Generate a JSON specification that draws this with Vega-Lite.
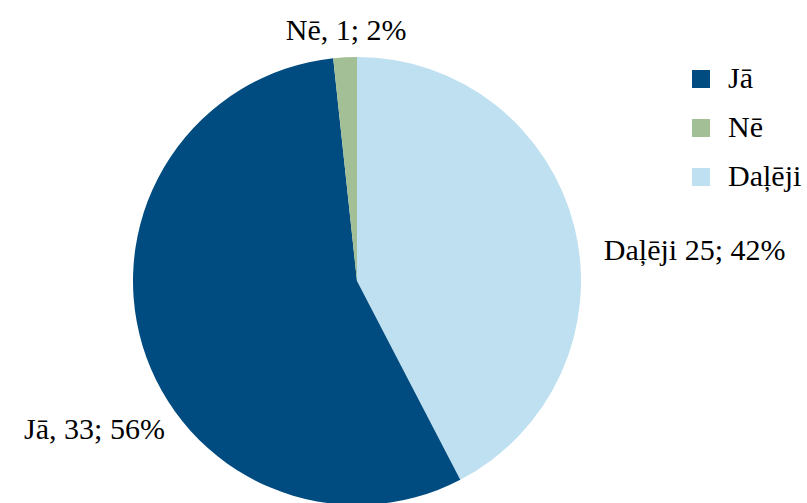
{
  "$schema": "https://vega.github.io/schema/vega-lite/v6.json",
  "width": 714,
  "height": 562,
  "autosize": "none",
  "padding": {"left": 0, "top": 0, "right": 93, "bottom": 0},
  "background": "white",
  "config": {"view": {"stroke": null}, "font": "Liberation Serif"},
  "data": {"values": [
    {"cat": "Daļēji", "value": 25, "ord": 1, "label": "Daļēji 25; 42%"},
    {"cat": "Jā", "value": 33, "ord": 2, "label": "Jā, 33; 56%"},
    {"cat": "Nē", "value": 1, "ord": 3, "label": "Nē, 1; 2%"}
  ]},
  "encoding": {
    "theta": {"field": "value", "type": "quantitative", "stack": true},
    "order": {"field": "ord", "type": "quantitative"}
  },
  "layer": [
    {
      "mark": {"type": "arc", "outerRadius": 224},
      "encoding": {
        "color": {
          "field": "cat", "type": "nominal",
          "scale": {"domain": ["Jā", "Nē", "Daļēji"], "range": ["#004b7f", "#a3bf95", "#bee0f0"]},
          "legend": {
            "title": null, "orient": "none", "legendX": 686, "legendY": 64,
            "symbolType": "square", "symbolSize": 324, "symbolStrokeWidth": 0,
            "labelFont": "Liberation Serif", "labelFontSize": 30, "labelColor": "black",
            "labelOffset": 12, "rowPadding": 19
          }
        }
      }
    },
    {
      "mark": {"type": "text", "radius": 241, "align": "center", "baseline": "alphabetic", "dx": 2, "fontSize": 30, "font": "Liberation Serif", "color": "black"},
      "encoding": {"text": {"condition": {"test": "datum.cat === 'Nē'", "field": "label"}, "value": ""}}
    },
    {
      "mark": {"type": "text", "radius": 250, "align": "left", "baseline": "alphabetic", "dx": 4, "dy": 38, "fontSize": 30, "font": "Liberation Serif", "color": "black"},
      "encoding": {"text": {"condition": {"test": "datum.cat === 'Daļēji'", "field": "label"}, "value": ""}}
    },
    {
      "mark": {"type": "text", "radius": 270, "align": "center", "baseline": "alphabetic", "dx": -4, "dy": 80, "fontSize": 30, "font": "Liberation Serif", "color": "black"},
      "encoding": {"text": {"condition": {"test": "datum.cat === 'Jā'", "field": "label"}, "value": ""}}
    }
  ]
}
